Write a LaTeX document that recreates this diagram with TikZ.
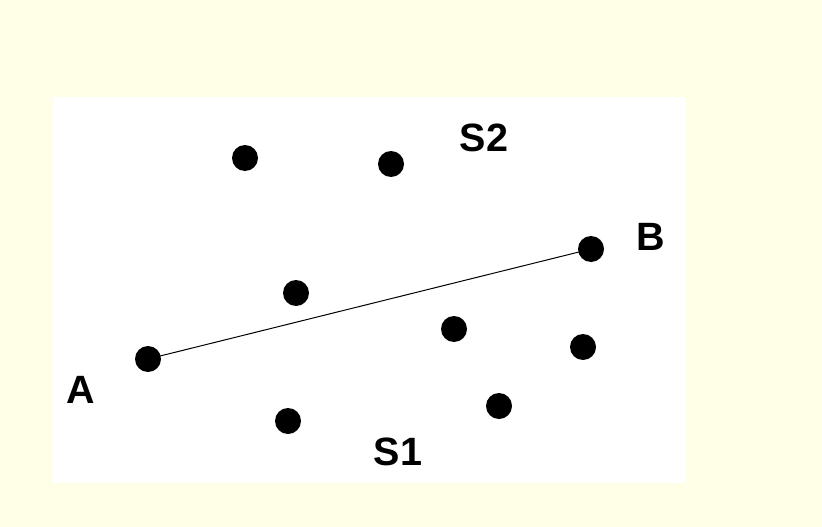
\documentclass[tikz,border=0pt]{standalone}
\usepackage{fontspec}
\setmainfont{Liberation Sans}
\definecolor{bgyellow}{RGB}{255,255,232}
\begin{document}
\begin{tikzpicture}[x=1pt,y=-1pt,
  dot/.style={circle,fill=black,inner sep=0pt,minimum size=26pt},
  lbl/.style={font=\fontsize{39.5}{42}\selectfont\bfseries,inner sep=0pt}]
\fill[bgyellow] (0,0) rectangle (822,527);
\useasboundingbox (0,0) rectangle (822,527);
\fill[white] (53,97) rectangle (686,483);
\node[dot] (p1) at (245,158) {};
\node[dot] (p2) at (391,164) {};
\node[dot] (B) at (591,249) {};
\node[dot] (p3) at (296,293) {};
\node[dot] (A) at (148,359) {};
\node[dot] (p4) at (454,329) {};
\node[dot] (p5) at (583,347) {};
\node[dot] (p6) at (288,421) {};
\node[dot] (p7) at (499,406) {};
\draw[line width=1pt] (A.center) -- (B.center);
\node[lbl] (lS2) at (484,138) {S2};
\node[lbl] (lB) at (651,237) {B};
\node[lbl] (lA) at (81,390) {A};
\node[lbl] (lS1) at (398,452) {S1};
\end{tikzpicture}
\end{document}
